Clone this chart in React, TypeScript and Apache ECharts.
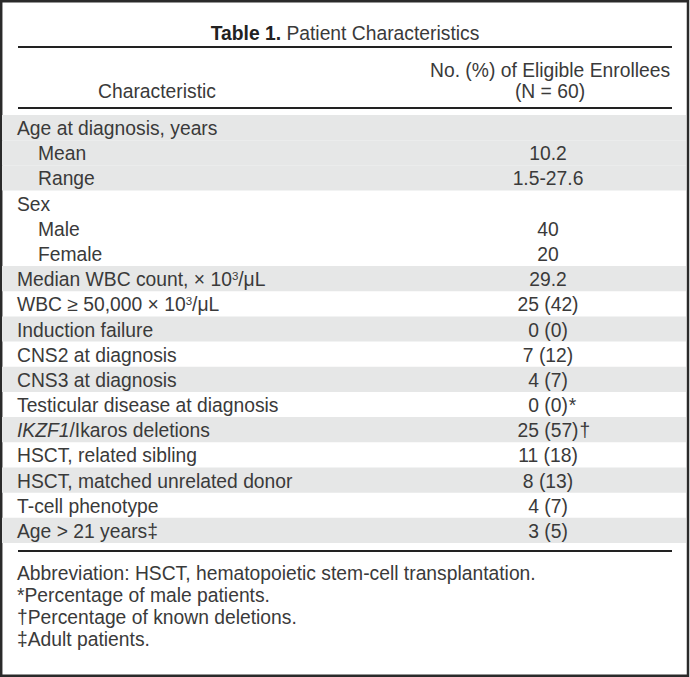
import React, { useEffect, useRef } from "react";
import * as echarts from "echarts";

const titleBold = "Table 1.";
const titleRest = " Patient Characteristics";
const headerLeft = "Characteristic";
const headerRight = ["No. (%) of Eligible Enrollees", "(N = 60)"];

const rowLabels = [
  "Age at diagnosis, years",
  "Mean",
  "Range",
  "Sex",
  "Male",
  "Female",
  "Median WBC count, × 10{sup|3}/μL",
  "WBC ≥ 50,000 × 10{sup|3}/μL",
  "Induction failure",
  "CNS2 at diagnosis",
  "CNS3 at diagnosis",
  "Testicular disease at diagnosis",
  "{i|IKZF1}/Ikaros deletions",
  "HSCT, related sibling",
  "HSCT, matched unrelated donor",
  "T-cell phenotype",
  "Age > 21 years‡",
];
const rowValues = [
  "", "10.2", "1.5-27.6", "", "40", "20", "29.2", "25 (42)", "0 (0)", "7 (12)",
  "4 (7)", "0 (0)", "25 (57)", "11 (18)", "8 (13)", "4 (7)", "3 (5)",
];
const rowMarks = ["", "", "", "", "", "", "", "", "", "", "", "*", "†", "", "", "", ""];
const rowIndent = [0, 1, 1, 0, 1, 1, 0, 0, 0, 0, 0, 0, 0, 0, 0, 0, 0];
const rowShaded = [1, 1, 1, 0, 0, 0, 1, 0, 1, 0, 1, 0, 1, 0, 1, 0, 1];
const footnotes = [
  "Abbreviation: HSCT, hematopoietic stem-cell transplantation.",
  "*Percentage of male patients.",
  "†Percentage of known deletions.",
  "‡Adult patients.",
];

const FONT_FAMILY = "'Liberation Sans', Arial, sans-serif";
const FONT_SIZE = 19.3;
const TEXT_COLOR = "#3a3a3a";
const SHADE = "#e6e7e7";
const LINE_COLOR = "#222";
const VALUE_X = 548;
const LABEL_X = 17;
const INDENT = 21;

export default function App() {
  const ref = useRef<HTMLDivElement>(null);
  useEffect(() => {
    document.body.style.margin = "0";
    if (!ref.current) return;
    const chart = echarts.init(ref.current, undefined, { renderer: "svg" });
    const canvas = document.createElement("canvas");
    const ctx = canvas.getContext("2d")!;
    ctx.font = `${FONT_SIZE}px ${FONT_FAMILY}`;

    const baseText = { fill: TEXT_COLOR, fontSize: FONT_SIZE, fontFamily: FONT_FAMILY };
    const rich = {
      sup: { fontSize: 11.5, fill: TEXT_COLOR, fontFamily: FONT_FAMILY, verticalAlign: "top", padding: [0, 0, 7, 0] },
      i: { fontStyle: "italic", fontSize: FONT_SIZE, fill: TEXT_COLOR, fontFamily: FONT_FAMILY },
    };

    const option: any = {
      animation: false,
      grid: { left: 2, right: 4, top: 115, bottom: 134 },
      xAxis: { type: "value", min: 0, max: 1, show: false },
      yAxis: { type: "category", inverse: true, show: false, data: rowLabels.map((_, i) => String(i)) },
      series: [
        {
          type: "custom",
          silent: true,
          data: rowLabels.map((_, i) => [0, i]),
          renderItem: (params: any, api: any) => {
            const idx = params.dataIndex;
            const cs = params.coordSys;
            const cy = api.coord([0, idx])[1];
            const h = api.size([0, 1])[1];
            const children: any[] = [];
            if (rowShaded[idx]) {
              children.push({
                type: "rect",
                shape: { x: cs.x, y: cy - h / 2, width: cs.width, height: h },
                style: { fill: SHADE },
              });
            }
            children.push({
              type: "text",
              x: LABEL_X + rowIndent[idx] * INDENT,
              y: cy + 1,
              style: { ...baseText, text: rowLabels[idx], align: "left", verticalAlign: "middle", rich },
            });
            if (rowValues[idx]) {
              children.push({
                type: "text",
                x: VALUE_X,
                y: cy + 1,
                style: { ...baseText, text: rowValues[idx], align: "center", verticalAlign: "middle" },
              });
            }
            if (rowMarks[idx]) {
              const w = ctx.measureText(rowValues[idx]).width;
              children.push({
                type: "text",
                x: VALUE_X + w / 2 + 1,
                y: cy + 1,
                style: { ...baseText, text: rowMarks[idx], align: "left", verticalAlign: "middle" },
              });
            }
            return { type: "group", children };
          },
        },
      ],
      graphic: [
        {
          type: "rect",
          shape: { x: 1.2, y: 1.2, width: 686.8, height: 674.6 },
          style: { fill: "none", stroke: "#2a2a2a", lineWidth: 2.5 },
        },
        {
          type: "text",
          x: 345,
          y: 33,
          style: {
            text: `{b|${titleBold}}${titleRest}`,
            align: "center",
            verticalAlign: "middle",
            ...baseText,
            rich: { b: { fontWeight: "bold", fontSize: FONT_SIZE, fill: "#222", fontFamily: FONT_FAMILY } },
          },
        },
        { type: "line", shape: { x1: 18, y1: 47, x2: 672, y2: 47 }, style: { stroke: LINE_COLOR, lineWidth: 2 } },
        {
          type: "text",
          x: 157,
          y: 91,
          style: { ...baseText, text: headerLeft, align: "center", verticalAlign: "middle" },
        },
        {
          type: "text",
          x: 550,
          y: 70,
          style: { ...baseText, text: headerRight[0], align: "center", verticalAlign: "middle" },
        },
        {
          type: "text",
          x: 550,
          y: 91,
          style: { ...baseText, text: headerRight[1], align: "center", verticalAlign: "middle" },
        },
        { type: "line", shape: { x1: 18, y1: 108, x2: 672, y2: 108 }, style: { stroke: LINE_COLOR, lineWidth: 2 } },
        { type: "line", shape: { x1: 18, y1: 551, x2: 672, y2: 551 }, style: { stroke: LINE_COLOR, lineWidth: 2.2 } },
        ...footnotes.map((t, i) => ({
          type: "text",
          x: LABEL_X,
          y: 573 + i * 22.2,
          style: { ...baseText, text: t, align: "left", verticalAlign: "middle" },
        })),
      ],
    };
    chart.setOption(option);
    return () => chart.dispose();
  }, []);
  return <div ref={ref} style={{ position: "absolute", left: 0, top: 0, width: 690, height: 677 }} />;
}
